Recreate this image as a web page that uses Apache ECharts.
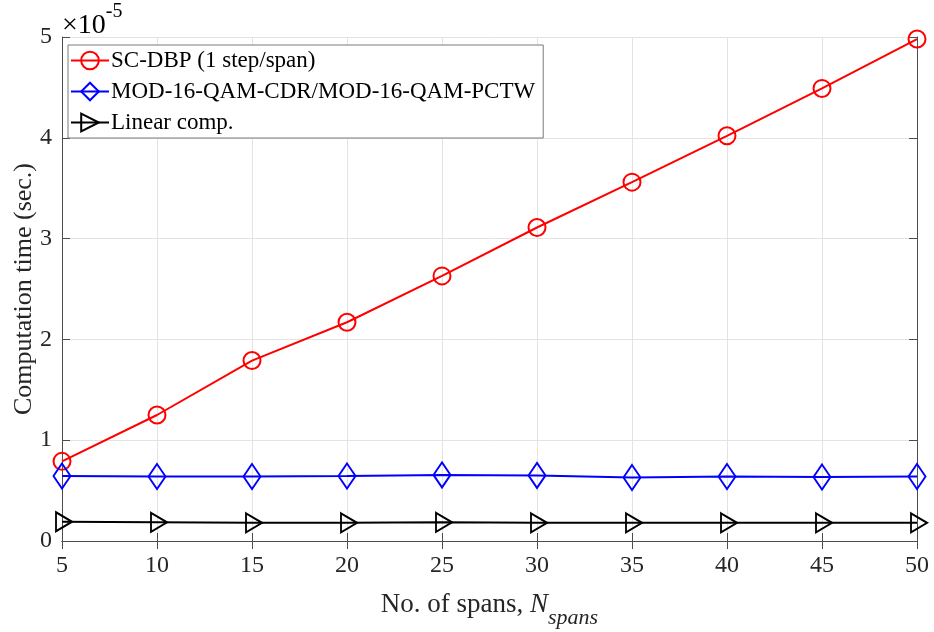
<!DOCTYPE html>
<html>
<head>
<meta charset="utf-8">
<script src="https://cdn.jsdelivr.net/npm/echarts@6/dist/echarts.min.js"></script>
<style>
  html, body { margin: 0; padding: 0; background: #fff; }
  #chart { width: 934px; height: 632px; }
</style>
</head>
<body>
<div id="chart"></div>
<script>
// number of spans
const spans = [5, 10, 15, 20, 25, 30, 35, 40, 45, 50];
// computation time, in units of 1e-5 s
const scDbp = [0.79, 1.25, 1.79, 2.17, 2.63, 3.11, 3.56, 4.02, 4.49, 4.98];
const mod16 = [0.645, 0.64, 0.64, 0.645, 0.655, 0.65, 0.63, 0.64, 0.635, 0.64];
const linComp = [0.19, 0.185, 0.18, 0.18, 0.185, 0.18, 0.18, 0.18, 0.18, 0.18];
const seriesNames = ['SC-DBP (1 step/span)', 'MOD-16-QAM-CDR/MOD-16-QAM-PCTW', 'Linear comp.'];

const font = '"Liberation Serif", "DejaVu Serif", serif';
const axisGray = '#4d4d4d';
const textGray = '#262626';

const chart = echarts.init(document.getElementById('chart'));

function pairs(vals) {
  return spans.map((s, i) => [s, vals[i]]);
}

function mkSeries(name, vals, color, symbol, size, offset) {
  return {
    name: name,
    type: 'line',
    data: pairs(vals),
    symbol: symbol,
    symbolSize: size,
    symbolOffset: offset || [0, 0],
    showAllSymbol: true,
    lineStyle: { color: color, width: 2 },
    itemStyle: { color: 'rgba(255,255,255,0)', borderColor: color, borderWidth: 2 },
    emphasis: { disabled: true },
    z: 3
  };
}

const tri = 'path://M0,0 L16,9.5 L0,19 Z';

const option = {
  animation: false,
  textStyle: { fontFamily: font },
  grid: { left: 62, right: 17, top: 37, bottom: 91, containLabel: false, outerBoundsMode: 'none' },
  legend: {
    left: 68, top: 45,
    orient: 'vertical',
    padding: [4, 8, 4, 2],
    itemGap: 8,
    itemWidth: 38,
    itemHeight: 22,
    borderColor: '#7a7a7a',
    borderWidth: 1,
    backgroundColor: '#fff',
    textStyle: { fontFamily: font, fontSize: 23, color: '#000', padding: [0, 0, 0, -3] },
    data: seriesNames
  },
  xAxis: [{
    type: 'value',
    min: 5, max: 50, interval: 5,
    name: '{a|No. of spans, }{i|N}{s|spans}',
    nameLocation: 'middle',
    nameGap: 40,
    nameTextStyle: {
      rich: {
        a: { fontFamily: font, fontSize: 27, color: textGray },
        i: { fontFamily: font, fontSize: 27, fontStyle: 'italic', color: textGray },
        s: { fontFamily: font, fontSize: 22, fontStyle: 'italic', color: textGray, padding: [26, 0, 0, 0] }
      }
    },
    axisLine: { lineStyle: { color: axisGray, width: 1 } },
    axisTick: { inside: true, length: 8, lineStyle: { color: axisGray } },
    axisLabel: { fontFamily: font, fontSize: 24, color: textGray, margin: 13 },
    splitLine: { show: true, lineStyle: { color: '#e3e3e3', width: 1 } }
  }, {
    type: 'value', position: 'top',
    min: 5, max: 50, interval: 5,
    axisLine: { show: true, lineStyle: { color: axisGray, width: 1 } },
    axisTick: { inside: true, length: 8, lineStyle: { color: axisGray } },
    axisLabel: { show: false },
    splitLine: { show: false }
  }],
  yAxis: [{
    type: 'value',
    min: 0, max: 5, interval: 1,
    name: 'Computation time (sec.)',
    nameLocation: 'middle',
    nameGap: 25,
    nameMoveOverlap: false,
    nameTextStyle: { fontFamily: font, fontSize: 26, color: textGray },
    axisLine: { show: true, lineStyle: { color: axisGray, width: 1 } },
    axisTick: { show: true, inside: true, length: 8, lineStyle: { color: axisGray } },
    axisLabel: { fontFamily: font, fontSize: 24, color: textGray, margin: 10 },
    splitLine: { show: true, lineStyle: { color: '#e3e3e3', width: 1 } }
  }, {
    type: 'value', position: 'right',
    min: 0, max: 5, interval: 1,
    axisLine: { show: true, lineStyle: { color: axisGray, width: 1 } },
    axisTick: { show: true, inside: true, length: 8, lineStyle: { color: axisGray } },
    axisLabel: { show: false },
    splitLine: { show: false }
  }],
  graphic: [{
    type: 'text',
    left: 62, top: 2,
    style: {
      text: '{a|×10}{b|-5}',
      rich: {
        a: { fontFamily: font, fontSize: 28, color: textGray, padding: [14, 0, 0, 0] },
        b: { fontFamily: font, fontSize: 20, color: textGray, padding: [0, 0, 14, 0] }
      }
    }
  }],
  series: [
    mkSeries(seriesNames[0], scDbp, '#ff0000', 'circle', 17),
    mkSeries(seriesNames[1], mod16, '#0000ff', 'diamond', [17, 25]),
    mkSeries(seriesNames[2], linComp, '#000000', tri, [16, 19], [2, 0])
  ]
};

chart.setOption(option);
</script>
</body>
</html>
